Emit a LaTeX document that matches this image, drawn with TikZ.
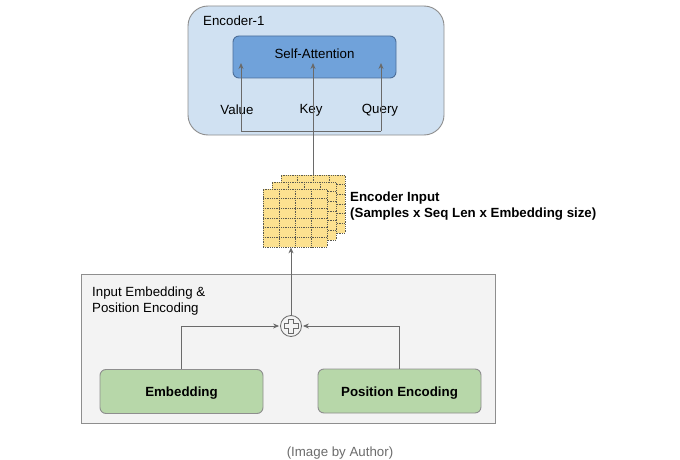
\documentclass[tikz,border=0pt]{standalone}
\usepackage{fontspec}
\setmainfont{Liberation Sans}
\usetikzlibrary{positioning,arrows.meta,calc}
\definecolor{encFill}{HTML}{D0E1F2}
\definecolor{attnFill}{HTML}{70A2DA}
\definecolor{attnLine}{HTML}{4C6E99}
\definecolor{inFill}{HTML}{F3F3F3}
\definecolor{embFill}{HTML}{B7D7A9}
\definecolor{boxLine}{HTML}{8E8E8E}
\definecolor{lineGray}{HTML}{6A6A6A}
\definecolor{gridFill}{HTML}{FCE190}
\definecolor{dotGray}{HTML}{5A5A50}
\tikzset{
  panel/.style={rectangle, fill=inFill, draw=boxLine, line width=0.9pt, inner sep=0pt},
  attnBox/.style={rectangle, rounded corners=6pt, fill=attnFill, draw=attnLine, line width=0.9pt,
    minimum width=163pt, minimum height=42pt},
  embBox/.style={rectangle, rounded corners=6pt, fill=embFill, draw=boxLine, line width=0.9pt,
    minimum width=163pt, minimum height=44pt},
  gridLayer/.style={rectangle, minimum width=64pt, minimum height=58pt, inner sep=0pt,
    fill=gridFill, draw=dotGray, densely dotted, line width=0.8pt,
    path picture={
      \foreach \i in {1,2,3}
        \draw[dotGray, densely dotted, line width=0.8pt]
          ($(path picture bounding box.north west)!\i/4!(path picture bounding box.north east)$) --
          ($(path picture bounding box.south west)!\i/4!(path picture bounding box.south east)$);
      \foreach \j in {1,...,5}
        \draw[dotGray, densely dotted, line width=0.8pt]
          ($(path picture bounding box.north west)!\j/6!(path picture bounding box.south west)$) --
          ($(path picture bounding box.north east)!\j/6!(path picture bounding box.south east)$);
    }},
  sumNode/.style={circle, draw=lineGray, line width=0.8pt, minimum size=21pt, inner sep=0pt,
    path picture={
      \draw[lineGray, line width=0.8pt, shift={(path picture bounding box.center)}]
        (-2.4,-7) -- (2.4,-7) -- (2.4,-2.4) -- (7,-2.4) -- (7,2.4) -- (2.4,2.4) -- (2.4,7)
        -- (-2.4,7) -- (-2.4,2.4) -- (-7,2.4) -- (-7,-2.4) -- (-2.4,-2.4) -- cycle;
    }},
  wire/.style={draw=lineGray, line width=0.9pt},
  flowArrow/.style={wire, -{Stealth[length=6pt,width=5pt]}},
  label/.style={inner sep=0pt},
  boldLabel/.style={inner sep=0pt, font=\fontsize{13.3}{16}\selectfont\bfseries}
}

\begin{document}
\begin{tikzpicture}[x=1pt, y=-1pt, font=\fontsize{13.3}{16}\selectfont]
  \useasboundingbox[fill=white] (0,0) rectangle (680,460);

  % encoder block
  \node[rectangle, rounded corners=20pt, fill=encFill, draw=boxLine, line width=0.9pt,
        minimum width=256pt, minimum height=129pt] (encoder) at (316,70.5) {};
  \node[label, anchor=north west] (encName) at (203,15.5) {Encoder-1};
  \node[attnBox] (attn) at (314.5,57) {};
  \node[label] at (314.5,54) {Self-Attention};
  \node[label] (valueLbl) at (237,110) {Value};
  \node[label] (keyLbl) at (311,110) {Key};
  \node[label] (queryLbl) at (380,110) {Query};

  % input embedding block
  \node[panel, minimum width=414pt, minimum height=149pt] (inPanel) at (288,348.5) {};
  \node[label, anchor=north west, align=left] (inName) at (92,287) {Input Embedding \&\\Position Encoding};
  \node[embBox] (emb) at (181.5,391.5) {};
  \node[boldLabel] at (181.5,393) {Embedding};
  \node[embBox] (pos) at (399.5,391) {};
  \node[boldLabel] at (399.5,393) {Position Encoding};
  \node[sumNode, fill=inFill] (sum) at (291,326) {};

  % encoder input tensor
  \node[gridLayer] (layer3) at (313,204) {};
  \node[gridLayer] (layer2) at (304,211) {};
  \node[gridLayer] (layer1) at (295,218) {};
  \node[boldLabel, anchor=north west, align=left]
    (inCaption) at (350,192) {Encoder Input\\(Samples x Seq Len x Embedding size)};

  % caption
  \node[label, text=gray!85!black] (credit) at (340,453) {(Image by Author)};

  % connectors
  \coordinate (busL) at (241,131);
  \coordinate (busR) at (381,131);
  \coordinate (vTip) at (241,63);
  \coordinate (kTip) at (313,63);
  \coordinate (qTip) at (381,63);
  \draw[wire] (busL) -- (busR);
  \draw[flowArrow] (busL) -- (vTip);
  \draw[flowArrow] (busR) -- (qTip);
  \draw[flowArrow] (layer3.north) -- (kTip);
  \draw[flowArrow] (sum.north) -- (sum.north |- layer1.south);
  \draw[flowArrow] (emb.north) |- ([xshift=-1pt]sum.west);
  \draw[flowArrow] (pos.north) |- ([xshift=1pt]sum.east);
\end{tikzpicture}
\end{document}
